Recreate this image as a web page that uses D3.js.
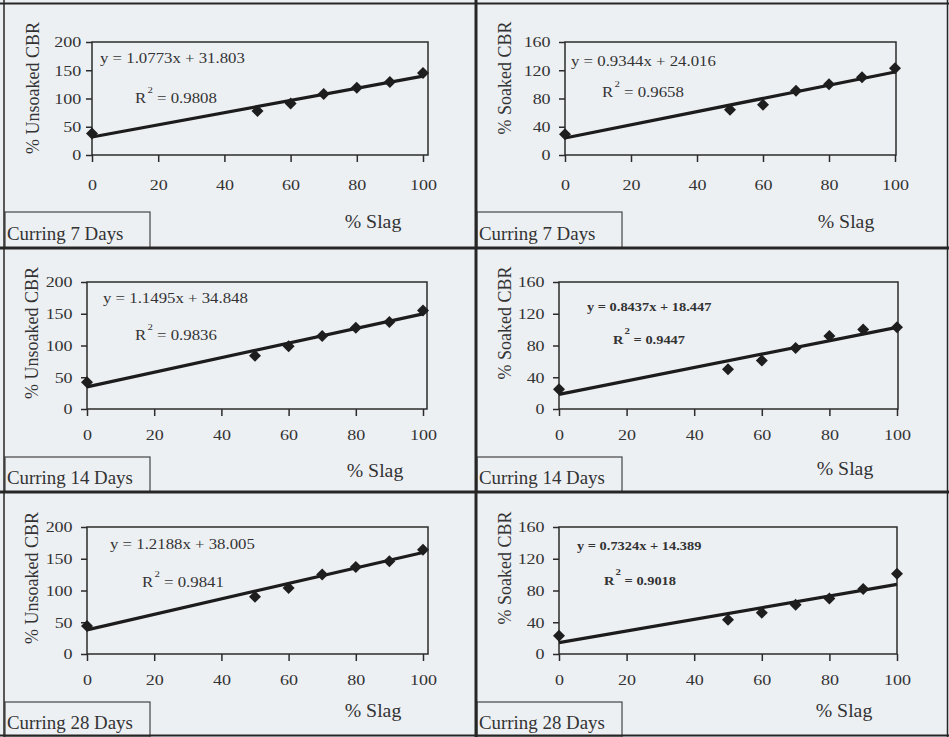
<!DOCTYPE html>
<html>
<head>
<meta charset="utf-8">
<script src="https://cdn.jsdelivr.net/npm/d3@7"></script>
<style>
  body { margin: 0; background: #edf0f3; }
  svg { display: block; }
</style>
</head>
<body>
<div class="data_figure"></div>
<script>
// values
const slagPct = [0, 50, 60, 70, 80, 90, 100];
const unsoaked7 = [38, 78, 91, 108, 119, 129, 145];
const soaked7 = [29.5, 64, 71, 91, 100, 110, 123];
const unsoaked14 = [42, 84, 99, 115, 128, 137, 155];
const soaked14 = [25, 50, 61, 77, 92, 100, 103];
const unsoaked28 = [44, 90, 104, 125, 137, 146, 164];
const soaked28 = [23, 43, 52, 62, 70, 82, 101];

const slopes = [1.0773, 0.9344, 1.1495, 0.8437, 1.2188, 0.7324];
const intercepts = [31.803, 24.016, 34.848, 18.447, 38.005, 14.389];
const rSquared = ["0.9808", "0.9658", "0.9836", "0.9447", "0.9841", "0.9018"];

const xTicks = [0, 20, 40, 60, 80, 100];
const unsoakedTicks = [0, 50, 100, 150, 200];
const soakedTicks = [0, 40, 80, 120, 160];
const yTitles = ["% Unsoaked CBR", "% Soaked CBR"];
const curingLabels = ["Curring 7 Days", "Curring 14 Days", "Curring 28 Days"];
const xTitle = "% Slag";

const seriesList = [unsoaked7, soaked7, unsoaked14, soaked14, unsoaked28, soaked28];

// page layout (absolute pixel positions of each panel's parts)
const layout = [
    {x0: 92,  x1: 423, fr: 428, yT: 42,  yB: 155, eq: [100, 63],  r2: [135, 103], yt: [33, 88],   sl: [373, 228], box: [5, 212, 145, 36],   yPad: 3, xGap: 35, eqSize: 14},
    {x0: 565, x1: 895, fr: 896, yT: 42,  yB: 155, eq: [571, 66],  r2: [602, 97],  yt: [505, 78],  sl: [846, 228], box: [477, 212, 145, 36], yPad: 6, xGap: 35, eqSize: 14},
    {x0: 87,  x1: 423, fr: 427, yT: 282, yB: 409, eq: [103, 303], r2: [135, 340], yt: [32, 333],  sl: [375, 477], box: [5, 457, 145, 35],   yPad: 6, xGap: 31, eqSize: 14},
    {x0: 559, x1: 897, fr: 898, yT: 282, yB: 409, eq: [587, 311], r2: [613, 344], yt: [505, 323], sl: [845, 475], box: [477, 457, 145, 35], yPad: 6, xGap: 31, eqSize: 12},
    {x0: 87,  x1: 423, fr: 428, yT: 527, yB: 654, eq: [110, 549], r2: [142, 587], yt: [32, 578],  sl: [373, 717], box: [5, 702, 145, 35],   yPad: 6, xGap: 31, eqSize: 14},
    {x0: 559, x1: 897, fr: 897, yT: 527, yB: 654, eq: [577, 550], r2: [604, 585], yt: [505, 568], sl: [844, 717], box: [477, 702, 145, 35], yPad: 6, xGap: 31, eqSize: 12},
];

const W = 949, H = 737;
const ink = "#2b2b2b";
const sx = 1.2; // the scan is stretched sideways
const serif = "'Liberation Serif', 'Times New Roman', serif";

const svg = d3.select(".data_figure")
    .append("svg")
    .attr("width", W)
    .attr("height", H)
    .style("font-family", serif);

svg.append("rect")
    .attr("width", W)
    .attr("height", H)
    .attr("fill", "#edf0f3");

function stretchText(parent, x, y, str, size, anchor, k) {
    return parent.append("g")
        .attr("transform", `translate(${x},${y}) scale(${k},1)`)
        .append("text")
        .attr("font-size", size)
        .attr("text-anchor", anchor || "start")
        .attr("fill", "#333")
        .text(str);
}

layout.forEach((L, i) => {
    const soaked = i % 2 === 1;
    const row = Math.floor(i / 2);
    const vals = seriesList[i];
    const yMax = soaked ? 160 : 200;

    const xScale = d3.scaleLinear().domain([0, 100]).range([L.x0, L.x1]);
    const yScale = d3.scaleLinear().domain([0, yMax]).range([L.yB, L.yT]);

    const g = svg.append("g");

    // plot frame
    g.append("rect")
        .attr("x", L.x0)
        .attr("y", L.yT)
        .attr("width", L.fr - L.x0)
        .attr("height", L.yB - L.yT)
        .attr("fill", "none")
        .attr("stroke", ink)
        .attr("stroke-width", 1.5);

    // x axis
    const xAx = g.append("g")
        .attr("transform", `translate(0,${L.yB})`)
        .call(d3.axisBottom(xScale).tickValues(xTicks).tickSize(7).tickSizeOuter(0)
            .tickPadding(L.xGap - 7 - 11));
    xAx.select(".domain").remove();
    xAx.selectAll("line").attr("stroke", ink).attr("stroke-width", 1.5);
    xAx.selectAll("text")
        .attr("font-size", 15)
        .attr("font-family", serif)
        .attr("fill", "#333")
        .attr("transform", `scale(${sx},1)`);

    // y axis
    const yAx = g.append("g")
        .attr("transform", `translate(${L.x0},0)`)
        .call(d3.axisLeft(yScale).tickValues(soaked ? soakedTicks : unsoakedTicks)
            .tickSize(6).tickSizeOuter(0).tickPadding(L.yPad));
    yAx.select(".domain").remove();
    yAx.selectAll("line").attr("stroke", ink).attr("stroke-width", 1.5);
    yAx.selectAll("text")
        .attr("font-size", 15)
        .attr("font-family", serif)
        .attr("fill", "#333")
        .attr("transform", `scale(${sx},1)`);

    // axis titles
    g.append("text")
        .attr("transform", `translate(${L.yt[0]},${L.yt[1]}) rotate(-90)`)
        .attr("text-anchor", "middle")
        .attr("dy", "0.35em")
        .attr("font-size", 18)
        .attr("fill", "#333")
        .text(yTitles[soaked ? 1 : 0]);

    stretchText(g, L.sl[0], L.sl[1], xTitle, 18, "middle", 1.1);

    // trend line from the fitted equation
    const line = d3.line()
        .x((d) => xScale(d))
        .y((d) => yScale(slopes[i] * d + intercepts[i]));
    g.append("path")
        .datum([0, 100])
        .attr("d", line)
        .attr("fill", "none")
        .attr("stroke", "#1c1c1c")
        .attr("stroke-width", 3.2);

    // markers
    g.selectAll(".pt")
        .data(slagPct.map((x, j) => ({x: x, y: vals[j]})))
        .enter()
        .append("path")
        .attr("class", "pt")
        .attr("d", d3.symbol().type(d3.symbolSquare).size(72))
        .attr("transform", (d) => `translate(${xScale(d.x)},${yScale(d.y)}) rotate(45)`)
        .attr("fill", "#1e1e1e");

    // equation and R²
    const weight = L.eqSize < 14 ? "bold" : "normal";
    stretchText(g, L.eq[0], L.eq[1],
        `y = ${slopes[i]}x + ${intercepts[i].toFixed(3)}`, L.eqSize, "start", sx)
        .attr("font-weight", weight);

    const r2 = stretchText(g, L.r2[0], L.r2[1], "", L.eqSize, "start", sx)
        .attr("font-weight", weight);
    r2.append("tspan").text("R");
    r2.append("tspan").attr("dy", -10).attr("dx", 1).attr("font-size", 9).text("2");
    r2.append("tspan").attr("dy", 10).text(" = " + rSquared[i]);

    // curing box
    g.append("rect")
        .attr("x", L.box[0])
        .attr("y", L.box[1])
        .attr("width", L.box[2])
        .attr("height", L.box[3])
        .attr("fill", "#edf0f3")
        .attr("stroke", "#444")
        .attr("stroke-width", 1.2);
    stretchText(g, L.box[0] + 2, L.box[1] + L.box[3] - 8, curingLabels[row], 18, "start", 1.05);
});

// panel dividers and outer border
const borders = svg.append("g").attr("stroke", "#262626").attr("fill", "none");
borders.append("line").attr("x1", 476).attr("x2", 476).attr("y1", 0).attr("y2", H).attr("stroke-width", 3);
[248, 492].forEach((y) => {
    borders.append("line").attr("x1", 0).attr("x2", W).attr("y1", y).attr("y2", y).attr("stroke-width", 3);
});
borders.append("line").attr("x1", 4).attr("x2", 4).attr("y1", 0).attr("y2", H).attr("stroke-width", 1.5);
borders.append("line").attr("x1", 0).attr("x2", W).attr("y1", 3.5).attr("y2", 3.5).attr("stroke-width", 2);
borders.append("line").attr("x1", 0).attr("x2", W).attr("y1", 735.5).attr("y2", 735.5).attr("stroke-width", 2);
borders.append("line").attr("x1", 947.5).attr("x2", 947.5).attr("y1", 0).attr("y2", H).attr("stroke-width", 1.5);
</script>
</body>
</html>
